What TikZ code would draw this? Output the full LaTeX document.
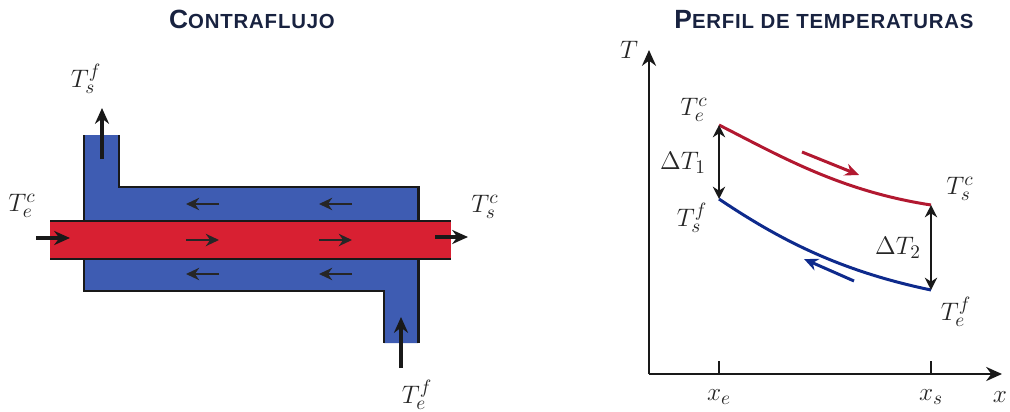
\documentclass[tikz,border=0pt]{standalone}
\usepackage{fontspec}
\setsansfont{Liberation Sans}[LetterSpace=4]
\usetikzlibrary{positioning, arrows.meta}

\definecolor{tubeblue}{RGB}{62,92,178}
\definecolor{tubered}{RGB}{216,32,50}
\definecolor{curvered}{RGB}{178,24,48}
\definecolor{curveblue}{RGB}{14,42,140}
\definecolor{titleink}{RGB}{24,34,64}

\newcommand{\smallcapstitle}[2]{{\fontsize{15pt}{16pt}\selectfont #1}{\fontsize{11.6pt}{14pt}\selectfont #2}}

\begin{document}
\begin{tikzpicture}[
        x=0.02cm,
        y=-0.02cm,
        title/.style={
            font=\sffamily\bfseries,
            text=titleink,
            inner sep=0pt
        },
        label/.style={
            font=\fontsize{15pt}{16pt}\selectfont,
            text=black!85,
            inner sep=0pt
        },
        outline/.style={line width=1.7pt, black!90},
        flow/.style={-{Stealth[length=9pt,width=8pt]}, line width=1.9pt, black!90},
        flowinner/.style={-{Stealth[length=7.5pt,width=7pt]}, line width=1.6pt, black!85},
        axis/.style={-{Stealth[length=9pt,width=8pt]}, line width=1.4pt, black!90},
        tick/.style={line width=1.2pt, black!90},
        gap/.style={{Stealth[length=7pt,width=7pt]}-{Stealth[length=7pt,width=7pt]}, line width=1.1pt, black!90},
        hot/.style={line width=1.7pt, curvered},
        cold/.style={line width=1.7pt, curveblue}
        ]
        
        \useasboundingbox (0,0) rectangle (1010,412);
        
        % Titles
        \node[title] (titleleft) at (252,19) {\smallcapstitle{C}{ONTRAFLUJO}};
        \node[title] (titleright) at (824,20) {\smallcapstitle{P}{ERFIL DE TEMPERATURAS}};
        
        % Exchanger body
        \fill[tubeblue] (84,135) -- (119,135) -- (119,187) -- (418,187) -- (418,343) -- (384,343)
        -- (384,291) -- (84,291) -- cycle;
        \draw[outline] (84,135) -- (84,221);
        \draw[outline] (119,135) -- (119,187) -- (418,187) -- (418,221);
        \draw[outline] (84,259) -- (84,291) -- (384,291) -- (384,343);
        \draw[outline] (418,259) -- (418,343);
        \fill[tubered] (50,221) rectangle (451,259);
        \draw[outline] (50,221) -- (451,221);
        \draw[outline] (50,259) -- (451,259);
        
        % Exchanger labels
        \node[label] (hotin) at (22,206) {$T_e^c$};
        \node[label] (hotout) at (485,207) {$T_s^c$};
        \node[label] (coldout) at (86,79) {$T_s^f$};
        \node[label] (coldin) at (417,395) {$T_e^f$};
        
        % Exchanger arrows
        \coordinate (hotinA) at (36,238);
        \coordinate (hotinB) at (70,238);
        \coordinate (hotoutA) at (435,237);
        \coordinate (hotoutB) at (468,237);
        \coordinate (coldoutA) at (102,159);
        \coordinate (coldoutB) at (102,108);
        \coordinate (coldinA) at (401,368);
        \coordinate (coldinB) at (401,317);
        \draw[flow] (hotinA) -- (hotinB);
        \draw[flow] (hotoutA) -- (hotoutB);
        \draw[flow] (coldoutA) -- (coldoutB);
        \draw[flow] (coldinA) -- (coldinB);
        
        \foreach \xa/\xb in {186/219, 319/352}{
            \draw[flowinner] (\xb,204) -- (\xa,204);
            \draw[flowinner] (\xa,240) -- (\xb,240);
            \draw[flowinner] (\xb,274) -- (\xa,274);
        }
        
        % Axes
        \coordinate (origin) at (649,374);
        \coordinate (axisT) at (649,50);
        \coordinate (axisx) at (1002,374);
        \coordinate (tickE) at (719,361);
        \coordinate (tickS) at (931,361);
        \coordinate (baseE) at (719,374);
        \coordinate (baseS) at (931,374);
        \draw[axis] (origin) -- (axisT);
        \draw[axis] (origin) -- (axisx);
        \draw[tick] (tickE) -- (baseE);
        \draw[tick] (tickS) -- (baseS);
        
        \node[label] (labelT) at (629,50) {$T$};
        \node[label] (labelx) at (1000,397) {$x$};
        \node[label] (labelxe) at (719,397) {$x_e$};
        \node[label] (labelxs) at (931,397) {$x_s$};
        
        % Temperature curves
        \coordinate (hotE) at (719,125);
        \coordinate (hotS) at (931,205);
        \coordinate (coldS) at (719,199);
        \coordinate (coldE) at (931,290);
        \draw[hot] (hotE) .. controls (780,156) and (840,191) .. (hotS);
        \draw[cold] (coldS) .. controls (780,240) and (840,271) .. (coldE);
        \draw[gap] (hotE) -- (coldS);
        \draw[gap] (hotS) -- (coldE);
        
        % Direction of the curves
        \coordinate (hotdirA) at (802,152);
        \coordinate (hotdirB) at (859,175);
        \coordinate (colddirA) at (854,281);
        \coordinate (colddirB) at (804,259);
        \draw[hot, -{Stealth[length=8pt,width=7pt]}] (hotdirA) -- (hotdirB);
        \draw[cold, -{Stealth[length=8pt,width=7pt]}] (colddirA) -- (colddirB);
        
        % Curve labels
        \node[label] (plothotin) at (694,110) {$T_e^c$};
        \node[label] (plotdeltaA) at (683,163) {$\Delta T_1$};
        \node[label] (plotcoldout) at (692,218) {$T_s^f$};
        \node[label] (plothotout) at (960,189) {$T_s^c$};
        \node[label] (plotdeltaB) at (898,248) {$\Delta T_2$};
        \node[label] (plotcoldin) at (956,312) {$T_e^f$};
        
    \end{tikzpicture}
\end{document}
